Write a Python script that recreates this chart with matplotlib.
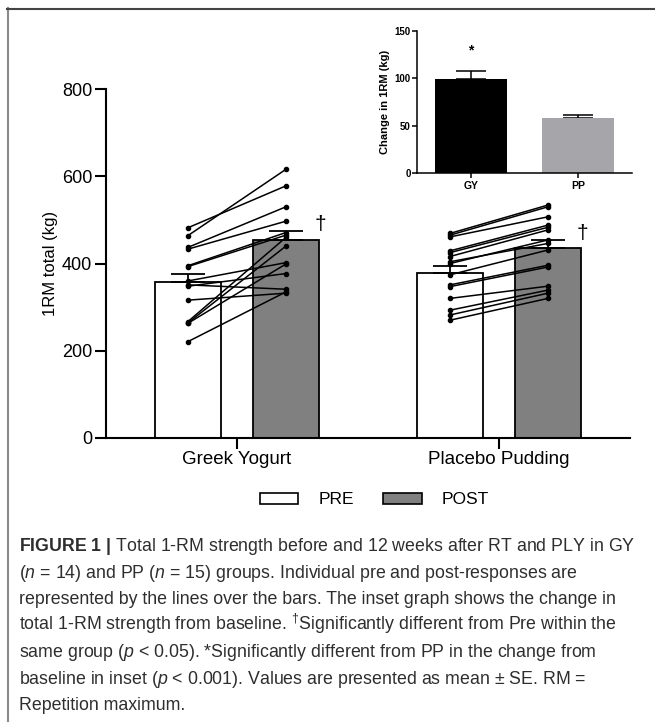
import matplotlib
matplotlib.use("Agg")
import matplotlib.pyplot as plt
from matplotlib.patches import Patch
from matplotlib.lines import Line2D
from matplotlib import font_manager

# main panel: group means / SE (kg)
groups = ['Greek Yogurt', 'Placebo Pudding']
pre_mean = [357, 378]
pre_se = [20, 17]
post_mean = [454, 436]
post_se = [20, 18]

# individual responses
gy_pre = [482, 464, 437, 433, 395, 393, 360, 351, 348, 316, 267, 264, 263, 221]
gy_post = [578, 616, 530, 497, 471, 465, 402, 341, 377, 332, 460, 440, 399, 335]
pp_pre = [469, 465, 461, 429, 425, 416, 404, 400, 374, 351, 347, 320, 293, 282, 270]
pp_post = [534, 530, 507, 488, 483, 477, 446, 454, 431, 396, 392, 348, 339, 332, 320]

# inset: change from baseline
inset_groups = ['GY', 'PP']
change_mean = [99, 58]
change_se = [9, 3]

names = {f.name for f in font_manager.fontManager.ttflist}
cap_font = 'Liberation Sans Narrow' if 'Liberation Sans Narrow' in names else 'Liberation Sans'
plt.rcParams['font.family'] = ['Liberation Sans', 'DejaVu Sans']
plt.rcParams['mathtext.fontset'] = 'custom'
plt.rcParams['mathtext.rm'] = cap_font
plt.rcParams['mathtext.it'] = cap_font + ':italic'
plt.rcParams['mathtext.bf'] = cap_font + ':bold'

W, H = 655, 722
fig = plt.figure(figsize=(W / 100, H / 100), dpi=100)


def frac(x0, y0, x1, y1):
    return [x0 / W, 1 - y1 / H, (x1 - x0) / W, (y1 - y0) / H]


ax = fig.add_axes(frac(106, 89, 630, 438))
off = 0.187
bw = 0.252
xs = range(len(groups))
xpre = [x - off for x in xs]
xpost = [x + off for x in xs]
ax.bar(xpre, pre_mean, bw, color='white', edgecolor='black', linewidth=1.3, zorder=2)
ax.bar(xpost, post_mean, bw, color='#808080', edgecolor='black', linewidth=1.3, zorder=2)
ax.errorbar(xpre, pre_mean, yerr=[[0, 0], pre_se], fmt='none', ecolor='black',
            elinewidth=1.3, capsize=12, capthick=1.3, zorder=3)
ax.errorbar(xpost, post_mean, yerr=[[0, 0], post_se], fmt='none', ecolor='black',
            elinewidth=1.3, capsize=12, capthick=1.3, zorder=3)

for g, (pre, post) in enumerate([(gy_pre, gy_post), (pp_pre, pp_post)]):
    for a, b in zip(pre, post):
        ax.plot([xpre[g], xpost[g]], [a, b], '-o', color='black', lw=1.1,
                markersize=3, zorder=4)
    ax.text(xpost[g] + bw / 2 + 0.005, post_mean[g] + post_se[g] - 6, '\u2020',
            fontsize=15, ha='center', va='bottom', zorder=5)

ax.set_xlim(-0.5, 1.5)
ax.set_ylim(0, 800)
ax.set_yticks([0, 200, 400, 600, 800])
ax.set_xticks(list(xs))
ax.set_xticklabels(groups, fontsize=13.5)
ax.tick_params(axis='y', labelsize=13, length=8, width=1.5, pad=2)
ax.tick_params(axis='x', length=8, width=1.5, pad=1.5)
ax.set_ylabel('1RM total (kg)', fontsize=12, labelpad=3)
for s in ['top', 'right']:
    ax.spines[s].set_visible(False)
for s in ['left', 'bottom']:
    ax.spines[s].set_linewidth(1.5)

handles = [Patch(facecolor='white', edgecolor='black', linewidth=1.2, label='PRE'),
           Patch(facecolor='#808080', edgecolor='black', linewidth=1.2, label='POST')]
fig.legend(handles=handles, loc='center', bbox_to_anchor=(374.5 / W, 1 - 500 / H), ncol=2,
           frameon=False, fontsize=12.5, handlelength=2.2, handleheight=0.57,
           handletextpad=1.15, columnspacing=1.7, borderpad=0)

# inset
ins = fig.add_axes(frac(417, 31, 632, 173))
ins.bar(range(2), change_mean, 0.67, color=['black', '#a6a6aa'], zorder=2)
ins.errorbar(range(2), change_mean, yerr=[[0, 0], change_se], fmt='none', ecolor='black',
             elinewidth=1.1, capsize=11, capthick=1.1, zorder=1)
ins.text(0, 122, '*', fontsize=10, fontweight='bold', ha='center', va='bottom')
ins.set_xlim(-0.5, 1.5)
ins.set_ylim(0, 150)
ins.set_yticks([0, 50, 100, 150])
ins.set_xticks(range(2))
ins.set_xticklabels(inset_groups, fontsize=7.5, fontweight='bold')
for lab in ins.get_yticklabels():
    lab.set_fontweight('bold')
ins.tick_params(axis='y', labelsize=7, length=3.5, width=1.1, pad=1)
ins.tick_params(axis='x', length=3.5, width=1.1, pad=2.5)
ins.set_ylabel('Change in 1RM (kg)', fontsize=8, fontweight='bold', labelpad=3)
for s in ['top', 'right']:
    ins.spines[s].set_visible(False)
for s in ['left', 'bottom']:
    ins.spines[s].set_linewidth(1.1)

# frame lines of the figure panel
fig.add_artist(Line2D([7.5 / W, 7.5 / W], [0, 1 - 8 / H], color='#8a8a8a', lw=1.5))
fig.add_artist(Line2D([7 / W, 1], [1 - 8.5 / H, 1 - 8.5 / H], color='#444444', lw=1.5))

caption = [
    r'$\bf{FIGURE\ 1\ |}$ Total 1-RM strength before and 12 weeks after RT and PLY in GY',
    r'($\it{n}$ = 14) and PP ($\it{n}$ = 15) groups. Individual pre and post-responses are',
    'represented by the lines over the bars. The inset graph shows the change in',
    'total 1-RM strength from baseline. $^{\u2020}$Significantly different from Pre within the',
    r'same group ($\it{p}$ < 0.05). *Significantly different from PP in the change from',
    r'baseline in inset ($\it{p}$ < 0.001). Values are presented as mean $\pm$ SE. RM =',
    'Repetition maximum.',
]
for i, line in enumerate(caption):
    y = 551 + i * 26.5
    fig.text(19 / W, 1 - y / H, line, fontsize=12.8, family=cap_font, color='#2e2e2e',
             ha='left', va='baseline')

fig.savefig('out.png', dpi=100)
